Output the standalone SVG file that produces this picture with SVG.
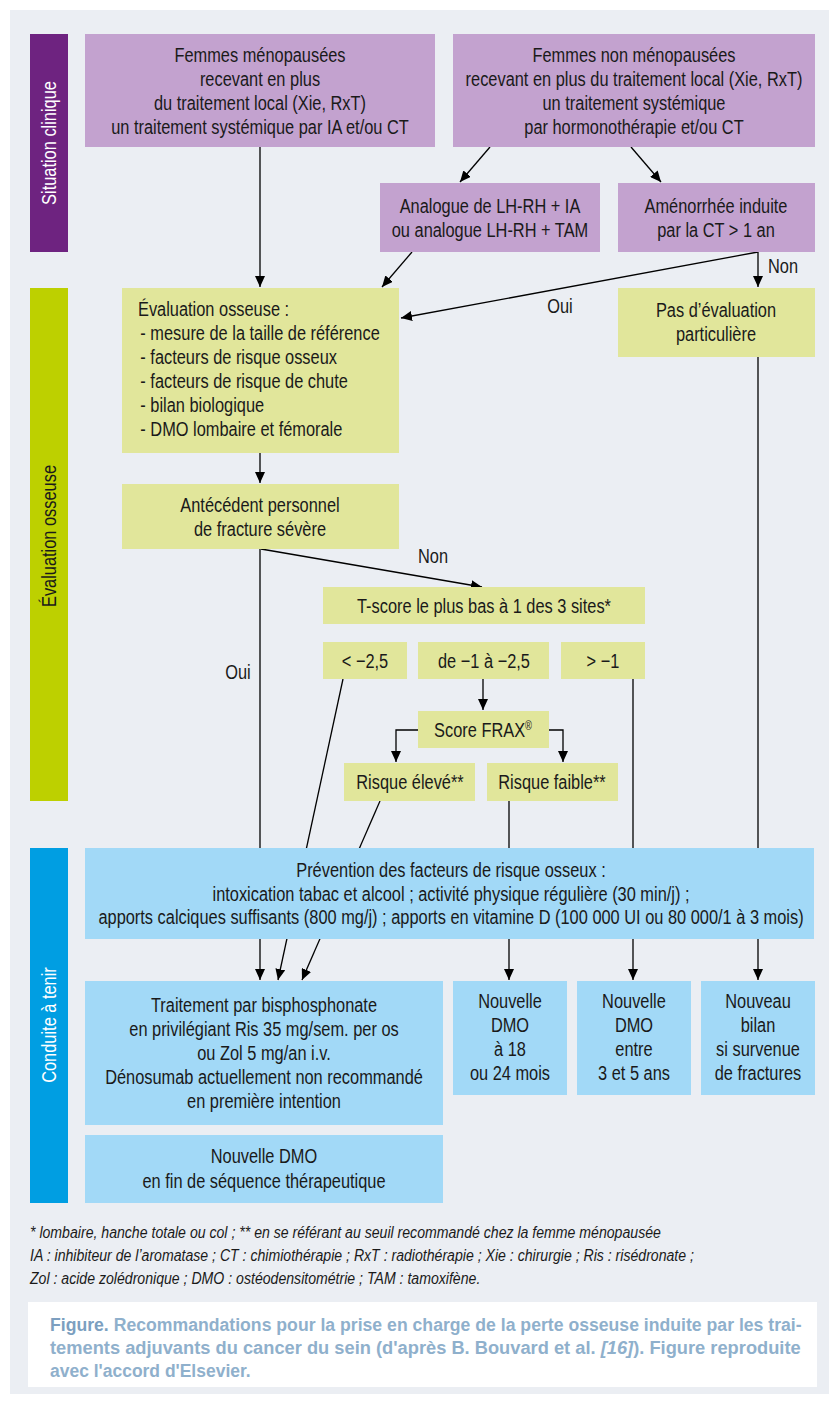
<svg xmlns="http://www.w3.org/2000/svg" width="838" height="1402" viewBox="0 0 838 1402">
<style>
text{font-family:"Liberation Sans",Arial,sans-serif;font-size:21px;fill:#1a1a1a}
.c{text-anchor:middle}
.pu{fill:#c3a2cf}
.gr{fill:#e1e69b}
.bl{fill:#a2d9f7}
.ln{stroke:#000;stroke-width:1.3;fill:none}
.ar{marker-end:url(#ah)}
.side{fill:#fff;text-anchor:middle;dominant-baseline:central}
.fn{font-style:italic;font-size:17px}
.cap{fill:#8fb0cc;font-size:19px;font-weight:bold}
</style>
<defs>
<marker id="ah" markerUnits="userSpaceOnUse" markerWidth="11" markerHeight="10" refX="11" refY="5" orient="auto">
<path d="M0,0 L11,5 L0,10 z" fill="#000"/>
</marker>
</defs>
<rect x="0" y="0" width="838" height="1402" fill="#fff"/>
<rect x="10" y="10" width="819" height="1384" fill="#ebeef3"/>

<g id="bar-situation">
<rect x="30" y="34" width="38" height="218" fill="#6e2380"/>
<text class="side" transform="translate(49,143) rotate(-90) scale(0.78,1)">Situation clinique</text>
</g>
<g id="bar-evaluation">
<rect x="30" y="288" width="38" height="513" fill="#bdd000"/>
<text class="side" style="fill:#1a1a1a" transform="translate(49,536) rotate(-90) scale(0.78,1)">Évaluation osseuse</text>
</g>
<g id="bar-conduite">
<rect x="30" y="848" width="38" height="355" fill="#009ee2"/>
<text class="side" transform="translate(49,1025) rotate(-90) scale(0.78,1)">Conduite à tenir</text>
</g>

<g id="connectors">
<line class="ln ar" x1="260" y1="147" x2="260" y2="287"/>
<line class="ln ar" x1="490" y1="147" x2="460" y2="182"/>
<line class="ln ar" x1="631" y1="147" x2="661" y2="182"/>
<line class="ln ar" x1="412" y1="252" x2="382" y2="287"/>
<line class="ln ar" x1="758" y1="252" x2="758" y2="287"/>
<line class="ln ar" x1="758" y1="252" x2="401" y2="318"/>
<line class="ln ar" x1="260" y1="453" x2="260" y2="483"/>
<line class="ln ar" x1="261" y1="549" x2="482" y2="587"/>
<line class="ln ar" x1="260" y1="549" x2="260" y2="980"/>
<line class="ln ar" x1="343" y1="679" x2="278" y2="980"/>
<line class="ln ar" x1="380" y1="801" x2="302" y2="980"/>
<line class="ln ar" x1="483" y1="679" x2="483" y2="710"/>
<polyline class="ln ar" points="418,730 396,730 396,762"/>
<polyline class="ln ar" points="549,730 563,730 563,762"/>
<line class="ln ar" x1="509" y1="801" x2="509" y2="980"/>
<line class="ln ar" x1="633" y1="679" x2="633" y2="980"/>
<line class="ln ar" x1="758" y1="357" x2="758" y2="980"/>
<text x="768" y="273" transform="matrix(0.78 0 0 1 168.96 0)">Non</text>
<text class="c" x="560" y="313" transform="matrix(0.78 0 0 1 123.2 0)">Oui</text>
<text x="418" y="563" transform="matrix(0.78 0 0 1 91.96 0)">Non</text>
<text class="c" x="238" y="679" transform="matrix(0.78 0 0 1 52.36 0)">Oui</text>
</g>

<g id="n-menopausees">
<rect class="pu" x="85" y="34" width="350" height="113"/>
<g transform="matrix(0.78 0 0 1 57.2 0)">
<text class="c" x="260" y="62">Femmes ménopausées</text>
<text class="c" x="260" y="86">recevant en plus</text>
<text class="c" x="260" y="110">du traitement local (Xie, RxT)</text>
<text class="c" x="260" y="134">un traitement systémique par IA et/ou CT</text>
</g>
</g>
<g id="n-non-menopausees">
<rect class="pu" x="453" y="34" width="362" height="113"/>
<g transform="matrix(0.78 0 0 1 139.48 0)">
<text class="c" x="634" y="62">Femmes non ménopausées</text>
<text class="c" x="634" y="86">recevant en plus du traitement local (Xie, RxT)</text>
<text class="c" x="634" y="110">un traitement systémique</text>
<text class="c" x="634" y="134">par hormonothérapie et/ou CT</text>
</g>
</g>
<g id="n-analogue">
<rect class="pu" x="380" y="183" width="220" height="69"/>
<g transform="matrix(0.78 0 0 1 107.8 0)">
<text class="c" x="490" y="213">Analogue de LH-RH + IA</text>
<text class="c" x="490" y="237">ou analogue LH-RH + TAM</text>
</g>
</g>
<g id="n-amenorrhee">
<rect class="pu" x="618" y="183" width="197" height="69"/>
<g transform="matrix(0.78 0 0 1 157.52 0)">
<text class="c" x="716" y="213">Aménorrhée induite</text>
<text class="c" x="716" y="237">par la CT &gt; 1 an</text>
</g>
</g>
<g id="n-evaluation">
<rect class="gr" x="122" y="288" width="277" height="165"/>
<g transform="matrix(0.78 0 0 1 30.36 0)">
<text x="138" y="316">Évaluation osseuse :</text>
<text x="141" y="340"> - mesure de la taille de référence</text>
<text x="141" y="364"> - facteurs de risque osseux</text>
<text x="141" y="388"> - facteurs de risque de chute</text>
<text x="141" y="412"> - bilan biologique</text>
<text x="141" y="436"> - DMO lombaire et fémorale</text>
</g>
</g>
<g id="n-pas-evaluation">
<rect class="gr" x="618" y="288" width="197" height="69"/>
<g transform="matrix(0.78 0 0 1 157.52 0)">
<text class="c" x="716" y="317">Pas d’évaluation</text>
<text class="c" x="716" y="341">particulière</text>
</g>
</g>
<g id="n-antecedent">
<rect class="gr" x="122" y="484" width="277" height="65"/>
<g transform="matrix(0.78 0 0 1 57.2 0)">
<text class="c" x="260" y="512">Antécédent personnel</text>
<text class="c" x="260" y="536">de fracture sévère</text>
</g>
</g>
<g id="n-tscore">
<rect class="gr" x="323" y="587" width="322" height="37"/>
<text class="c" x="484" y="613" transform="matrix(0.78 0 0 1 106.48 0)">T-score le plus bas à 1 des 3 sites*</text>
</g>
<g id="n-inf25">
<rect class="gr" x="323" y="642" width="84" height="37"/>
<text class="c" x="365" y="668" transform="matrix(0.78 0 0 1 80.3 0)">&lt; −2,5</text>
</g>
<g id="n-de1a25">
<rect class="gr" x="418" y="642" width="131" height="37"/>
<text class="c" x="484" y="668" transform="matrix(0.78 0 0 1 106.48 0)">de −1 à −2,5</text>
</g>
<g id="n-sup1">
<rect class="gr" x="561" y="642" width="84" height="37"/>
<text class="c" x="603" y="668" transform="matrix(0.78 0 0 1 132.66 0)">&gt; −1</text>
</g>
<g id="n-frax">
<rect class="gr" x="418" y="711" width="131" height="37"/>
<text class="c" x="483" y="737" transform="matrix(0.78 0 0 1 106.26 0)">Score FRAX<tspan font-size="12" dy="-7">®</tspan></text>
</g>
<g id="n-risque-eleve">
<rect class="gr" x="344" y="763" width="131" height="38"/>
<text class="c" x="410" y="789" transform="matrix(0.78 0 0 1 90.2 0)">Risque élevé**</text>
</g>
<g id="n-risque-faible">
<rect class="gr" x="487" y="763" width="131" height="38"/>
<text class="c" x="552" y="789" transform="matrix(0.78 0 0 1 121.44 0)">Risque faible**</text>
</g>
<g id="n-prevention">
<rect class="bl" x="85" y="848" width="729" height="91"/>
<g transform="matrix(0.78 0 0 1 99.22 0)">
<text class="c" x="451" y="877">Prévention des facteurs de risque osseux :</text>
<text class="c" x="451" y="901">intoxication tabac et alcool ; activité physique régulière (30 min/j) ;</text>
<text class="c" x="451" y="924">apports calciques suffisants (800 mg/j) ; apports en vitamine D (100 000 UI ou 80 000/1 à 3 mois)</text>
</g>
</g>
<g id="n-traitement">
<rect class="bl" x="85" y="981" width="358" height="144"/>
<g transform="matrix(0.78 0 0 1 58.08 0)">
<text class="c" x="264" y="1012">Traitement par bisphosphonate</text>
<text class="c" x="264" y="1036">en privilégiant Ris 35 mg/sem. per os</text>
<text class="c" x="264" y="1060">ou Zol 5 mg/an i.v.</text>
<text class="c" x="264" y="1084">Dénosumab actuellement non recommandé</text>
<text class="c" x="264" y="1108">en première intention</text>
</g>
</g>
<g id="n-dmo-fin">
<rect class="bl" x="85" y="1135" width="358" height="68"/>
<g transform="matrix(0.78 0 0 1 58.08 0)">
<text class="c" x="264" y="1163">Nouvelle DMO</text>
<text class="c" x="264" y="1188">en fin de séquence thérapeutique</text>
</g>
</g>
<g id="n-dmo-18">
<rect class="bl" x="453" y="981" width="114" height="114"/>
<g transform="matrix(0.78 0 0 1 112.2 0)">
<text class="c" x="510" y="1008">Nouvelle</text>
<text class="c" x="510" y="1032">DMO</text>
<text class="c" x="510" y="1056">à 18</text>
<text class="c" x="510" y="1080">ou 24 mois</text>
</g>
</g>
<g id="n-dmo-3-5">
<rect class="bl" x="577" y="981" width="114" height="114"/>
<g transform="matrix(0.78 0 0 1 139.48 0)">
<text class="c" x="634" y="1008">Nouvelle</text>
<text class="c" x="634" y="1032">DMO</text>
<text class="c" x="634" y="1056">entre</text>
<text class="c" x="634" y="1080">3 et 5 ans</text>
</g>
</g>
<g id="n-bilan">
<rect class="bl" x="701" y="981" width="114" height="114"/>
<g transform="matrix(0.78 0 0 1 166.76 0)">
<text class="c" x="758" y="1008">Nouveau</text>
<text class="c" x="758" y="1032">bilan</text>
<text class="c" x="758" y="1056">si survenue</text>
<text class="c" x="758" y="1080">de fractures</text>
</g>
</g>

<g id="footnotes" transform="matrix(0.83 0 0 1 5.1 0)">
<text class="fn" x="30" y="1238">* lombaire, hanche totale ou col ; ** en se référant au seuil recommandé chez la femme ménopausée</text>
<text class="fn" x="30" y="1261">IA : inhibiteur de l’aromatase ; CT : chimiothérapie ; RxT : radiothérapie ; Xie : chirurgie ; Ris : risédronate ;</text>
<text class="fn" x="30" y="1284">Zol : acide zolédronique ; DMO : ostéodensitométrie ; TAM : tamoxifène.</text>
</g>

<g id="caption">
<rect x="28" y="1302" width="789" height="85" fill="#fff"/>
<g transform="matrix(0.92 0 0 1 4 0)">
<text class="cap" x="50" y="1331" textLength="817" lengthAdjust="spacingAndGlyphs"><tspan fill="#7c9fc0">Figure.</tspan> Recommandations pour la prise en charge de la perte osseuse induite par les trai-</text>
<text class="cap" x="50" y="1354" textLength="816" lengthAdjust="spacingAndGlyphs">tements adjuvants du cancer du sein (d'après B. Bouvard et al. <tspan font-style="italic">[16]</tspan>). Figure reproduite</text>
<text class="cap" x="50" y="1377">avec l'accord d'Elsevier.</text>
</g>
</g>
</svg>
